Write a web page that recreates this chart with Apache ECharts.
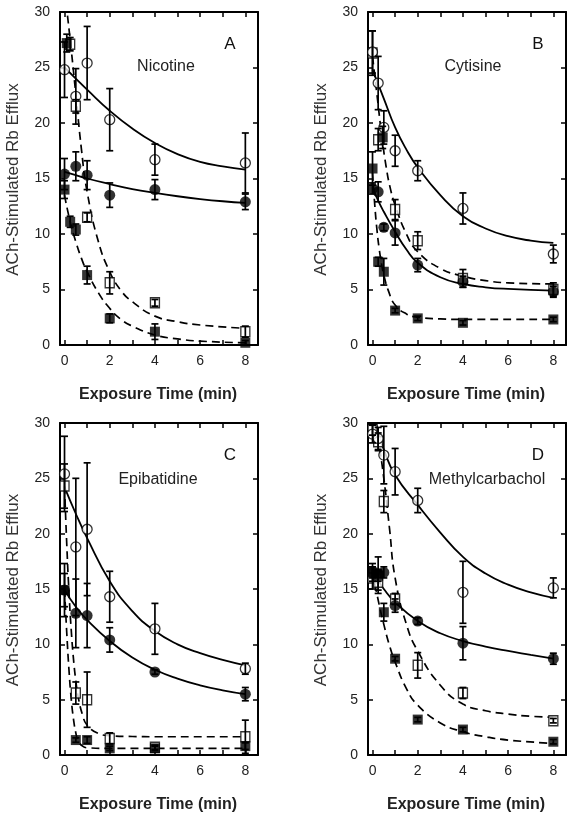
<!DOCTYPE html>
<html>
<head>
<meta charset="utf-8">
<script src="https://cdn.jsdelivr.net/npm/echarts@6/dist/echarts.min.js"></script>
<style>
html,body{margin:0;padding:0;background:#fff;}
#chart{width:572px;height:817px;}
</style>
</head>
<body>
<div id="chart"></div>
<script>
// ---------- tick labels ----------
const xTickLabels = [0, 2, 4, 6, 8];
const xMinorTicks = [0, 1, 2, 3, 4, 5, 6, 7, 8];
const yTickLabels = [0, 5, 10, 15, 20, 25, 30];
const panelNames = ['Nicotine', 'Cytisine', 'Epibatidine', 'Methylcarbachol'];
const panelLetters = ['A', 'B', 'C', 'D'];

// ---------- Panel A : Nicotine ----------
const A_oc_x = [0, 0.5, 1, 2, 4, 8];
const A_oc_y = [24.8, 22.4, 25.4, 20.3, 16.7, 16.4];
const A_oc_e = [2.5, 2.5, 3.3, 2.8, 1.4, 2.7];
const A_fc_x = [0, 0.5, 1, 2, 4, 8];
const A_fc_y = [15.4, 16.1, 15.3, 13.5, 14.0, 12.9];
const A_fc_e = [1.4, 1.3, 1.3, 1.1, 0.9, 0.7];
const A_os_x = [0.25, 0.5, 1, 2, 4, 8];
const A_os_y = [27.1, 21.5, 11.5, 5.6, 3.8, 1.2];
const A_os_e = [0.6, 0.6, 0.4, 1.0, 0.3, 0.5];
const A_fs_x = [0.1, 0, 0.25, 0.5, 1, 2, 4, 8];
const A_fs_y = [27.2, 14.0, 11.1, 10.4, 6.3, 2.4, 1.2, 0.2];
const A_fs_e = [0.8, 0.8, 0.5, 0.5, 0.8, 0.4, 0.7, 0.2];
const A_ocFit_x = [0, 0.5, 1, 2, 3, 4, 5, 6, 7, 8];
const A_ocFit_y = [25.0, 24.0, 23.0, 21.1, 19.5, 18.2, 17.2, 16.5, 16.1, 15.8];
const A_fcFit_x = [0, 0.5, 1, 2, 3, 4, 5, 6, 7, 8];
const A_fcFit_y = [15.6, 15.3, 15.0, 14.5, 14.05, 13.7, 13.4, 13.15, 12.95, 12.8];
const A_osFit_x = [0, 0.25, 0.5, 0.75, 1, 1.5, 2, 2.5, 3, 4, 5, 6, 8];
const A_osFit_y = [32.0, 27.5, 22.6, 17.6, 13.8, 9.3, 6.6, 4.9, 3.9, 2.6, 2.1, 1.8, 1.5];
const A_fsFit_x = [0, 0.25, 0.5, 0.75, 1, 1.5, 2, 2.5, 3, 4, 5, 6, 8];
const A_fsFit_y = [13.5, 11.1, 9.3, 7.8, 6.6, 4.7, 3.3, 2.3, 1.7, 0.9, 0.55, 0.35, 0.2];

// ---------- Panel B : Cytisine ----------
const B_oc_x = [0, 0.25, 0.5, 1, 2, 4, 8];
const B_oc_y = [26.4, 23.6, 19.6, 17.5, 15.7, 12.3, 8.2];
const B_oc_e = [1.9, 2.4, 1.5, 1.4, 0.9, 1.4, 0.8];
const B_fc_x = [0, 0.25, 0.5, 1, 2, 4, 8];
const B_fc_y = [14.1, 13.8, 10.6, 10.1, 7.2, 5.7, 4.8];
const B_fc_e = [0.5, 0.9, 0.3, 1.1, 0.6, 0.5, 0.5];
const B_os_x = [0, 0.25, 1, 2, 4, 8];
const B_os_y = [26.3, 18.5, 12.2, 9.4, 6.0, 5.0];
const B_os_e = [2.0, 1.0, 0.9, 0.8, 0.8, 0.6];
const B_fs_x = [0, 0.45, 0.25, 0.5, 1, 2, 4, 8];
const B_fs_y = [15.9, 18.7, 7.5, 6.6, 3.1, 2.4, 2.0, 2.3];
const B_fs_e = [1.5, 1.0, 0.4, 1.2, 0.2, 0.2, 0.2, 0.2];
const B_ocFit_x = [0, 0.25, 0.5, 1, 1.5, 2, 3, 4, 5, 6, 7, 8];
const B_ocFit_y = [24.8, 23.5, 22.2, 19.6, 17.6, 16.0, 13.5, 11.6, 10.5, 9.8, 9.4, 9.2];
const B_fcFit_x = [0, 0.25, 0.5, 1, 1.5, 2, 3, 4, 5, 6, 8];
const B_fcFit_y = [14.2, 13.0, 12.0, 10.2, 8.6, 7.4, 6.1, 5.5, 5.2, 5.05, 4.9];
const B_osFit_x = [0, 0.2, 0.4, 0.6, 0.8, 1, 1.5, 2, 3, 4, 5, 6, 8];
const B_osFit_y = [26.0, 22.5, 19.0, 16.1, 14.0, 12.6, 10.0, 8.4, 6.9, 6.2, 5.8, 5.6, 5.5];
const B_fsFit_x = [0, 0.1, 0.2, 0.3, 0.4, 0.5, 0.7, 1, 1.5, 2, 3, 4, 8];
const B_fsFit_y = [15.5, 12.6, 10.3, 8.6, 7.3, 6.3, 4.9, 3.6, 2.8, 2.5, 2.35, 2.3, 2.3];

// ---------- Panel C : Epibatidine ----------
const C_oc_x = [0, 0.5, 1, 2, 4, 8];
const C_oc_y = [25.4, 18.8, 20.4, 14.3, 11.4, 7.8];
const C_oc_e = [3.4, 6.2, 6.0, 2.3, 2.3, 0.5];
const C_fc_x = [0, 0.5, 1, 2, 4, 8];
const C_fc_y = [14.9, 12.8, 12.6, 10.4, 7.5, 5.5];
const C_fc_e = [2.4, 3.1, 2.9, 1.1, 0.2, 0.6];
const C_os_x = [0, 0.5, 1, 2, 4, 8];
const C_os_y = [24.3, 5.6, 5.0, 1.5, 0.7, 1.65];
const C_os_e = [2.0, 1.0, 2.5, 0.5, 0.2, 1.5];
const C_fs_x = [0, 0.5, 1, 2, 4, 8];
const C_fs_y = [14.9, 1.35, 1.35, 0.6, 0.6, 0.8];
const C_fs_e = [1.5, 0.2, 0.3, 0.2, 0.2, 0.3];
const C_ocFit_x = [0, 0.5, 1, 2, 3, 4, 5, 6, 7, 8];
const C_ocFit_y = [24.2, 21.8, 19.6, 15.7, 13.0, 11.2, 10.0, 9.2, 8.6, 8.1];
const C_fcFit_x = [0, 0.5, 1, 2, 3, 4, 5, 6, 7, 8];
const C_fcFit_y = [14.9, 13.4, 12.2, 10.3, 8.8, 7.7, 6.9, 6.3, 5.85, 5.5];
const C_osFit_x = [0, 0.1, 0.2, 0.3, 0.4, 0.5, 0.6, 0.8, 1, 1.5, 2, 3, 4, 8];
const C_osFit_y = [24.3, 19.0, 14.6, 11.2, 8.6, 6.7, 5.3, 3.6, 2.7, 1.95, 1.75, 1.67, 1.65, 1.65];
const C_fsFit_x = [0, 0.1, 0.2, 0.3, 0.4, 0.5, 0.6, 0.8, 1, 2, 8];
const C_fsFit_y = [15.0, 11.0, 7.6, 5.0, 3.2, 2.0, 1.3, 0.8, 0.65, 0.6, 0.6];

// ---------- Panel D : Methylcarbachol ----------
const D_oc_x = [0, 0.25, 0.5, 1, 2, 4, 8];
const D_oc_y = [29.0, 28.6, 27.1, 25.6, 23.0, 14.7, 15.1];
const D_oc_e = [0.8, 1.0, 2.6, 2.1, 1.1, 2.8, 0.9];
const D_fc_x = [0, 0.25, 0.5, 1, 2, 4, 8];
const D_fc_y = [16.5, 16.4, 16.5, 13.5, 12.1, 10.1, 8.7];
const D_fc_e = [0.8, 1.5, 0.5, 0.6, 0.3, 1.5, 0.5];
const D_os_x = [0, 0.25, 0, 0.25, 0.5, 1, 2, 4, 8];
const D_os_y = [29.4, 28.3, 16.0, 15.6, 22.9, 14.1, 8.1, 5.6, 3.1];
const D_os_e = [0.5, 0.8, 1.0, 1.0, 1.0, 0.5, 1.15, 0.5, 0.2];
const D_fs_x = [0, 0.25, 0.5, 1, 2, 4, 8];
const D_fs_y = [16.5, 16.2, 12.9, 8.7, 3.2, 2.3, 1.2];
const D_fs_e = [0.5, 0.5, 0.8, 0.2, 0.2, 0.2, 0.2];
const D_ocFit_x = [0, 0.25, 0.5, 1, 2, 3, 4, 5, 6, 7, 8];
const D_ocFit_y = [31.5, 29.2, 27.6, 25.3, 22.6, 20.1, 17.9, 16.4, 15.4, 14.7, 14.2];
const D_fcFit_x = [0, 0.25, 0.5, 1, 2, 3, 4, 5, 6, 7, 8];
const D_fcFit_y = [16.6, 15.8, 15.0, 13.8, 12.1, 11.0, 10.3, 9.8, 9.4, 9.05, 8.7];
const D_osFit_x = [0.1, 0.25, 0.5, 0.75, 1, 1.5, 2, 3, 4, 5, 6, 7, 8];
const D_osFit_y = [30.0, 28.5, 25.0, 20.5, 16.0, 11.8, 9.4, 6.3, 4.6, 4.0, 3.7, 3.5, 3.4];
const D_fsFit_x = [0, 0.25, 0.5, 0.75, 1, 1.5, 2, 3, 4, 5, 6, 8];
const D_fsFit_y = [16.6, 14.0, 11.8, 9.9, 8.4, 6.0, 4.5, 2.9, 2.1, 1.65, 1.35, 1.05];

// ---------- assemble ----------
const panels = [
  {oc:[A_oc_x,A_oc_y,A_oc_e], fc:[A_fc_x,A_fc_y,A_fc_e], os:[A_os_x,A_os_y,A_os_e], fs:[A_fs_x,A_fs_y,A_fs_e],
   ocFit:[A_ocFit_x,A_ocFit_y], fcFit:[A_fcFit_x,A_fcFit_y], osFit:[A_osFit_x,A_osFit_y], fsFit:[A_fsFit_x,A_fsFit_y]},
  {oc:[B_oc_x,B_oc_y,B_oc_e], fc:[B_fc_x,B_fc_y,B_fc_e], os:[B_os_x,B_os_y,B_os_e], fs:[B_fs_x,B_fs_y,B_fs_e],
   ocFit:[B_ocFit_x,B_ocFit_y], fcFit:[B_fcFit_x,B_fcFit_y], osFit:[B_osFit_x,B_osFit_y], fsFit:[B_fsFit_x,B_fsFit_y]},
  {oc:[C_oc_x,C_oc_y,C_oc_e], fc:[C_fc_x,C_fc_y,C_fc_e], os:[C_os_x,C_os_y,C_os_e], fs:[C_fs_x,C_fs_y,C_fs_e],
   ocFit:[C_ocFit_x,C_ocFit_y], fcFit:[C_fcFit_x,C_fcFit_y], osFit:[C_osFit_x,C_osFit_y], fsFit:[C_fsFit_x,C_fsFit_y]},
  {oc:[D_oc_x,D_oc_y,D_oc_e], fc:[D_fc_x,D_fc_y,D_fc_e], os:[D_os_x,D_os_y,D_os_e], fs:[D_fs_x,D_fs_y,D_fs_e],
   ocFit:[D_ocFit_x,D_ocFit_y], fcFit:[D_fcFit_x,D_fcFit_y], osFit:[D_osFit_x,D_osFit_y], fsFit:[D_fsFit_x,D_fsFit_y]}
];

const FONT = '"Liberation Sans", Arial, sans-serif';
const gridBoxes = [
  {left: 60, top: 12, width: 198, height: 333},
  {left: 368, top: 12, width: 198, height: 333},
  {left: 60, top: 423, width: 198, height: 332},
  {left: 368, top: 423, width: 198, height: 332}
];

const grids = [], xAxes = [], yAxes = [], series = [], graphics = [];
const X_MIN = -0.2, X_MAX = 8.56;

function zip(xs, ys, es) {
  return xs.map((x, i) => es ? [x, ys[i], es[i]] : [x, ys[i]]);
}

function errRender(params, api) {
  const x = api.value(0), y = api.value(1), e = api.value(2);
  const t = api.coord([x, y + e]);
  const b = api.coord([x, y - e]);
  const hw = 3.5;
  const st = {stroke: '#000', lineWidth: 1.7};
  return {type: 'group', children: [
    {type: 'line', shape: {x1: t[0], y1: t[1], x2: b[0], y2: b[1]}, style: st},
    {type: 'line', shape: {x1: t[0] - hw, y1: t[1], x2: t[0] + hw, y2: t[1]}, style: st},
    {type: 'line', shape: {x1: b[0] - hw, y1: b[1], x2: b[0] + hw, y2: b[1]}, style: st}
  ]};
}

panels.forEach((p, i) => {
  const g = gridBoxes[i];
  grids.push(Object.assign({containLabel: false, outerBoundsMode: 'none'}, g));
  const tickStyle = {color: '#000', width: 1.5};
  const axLine = {show: true, onZero: false, lineStyle: {color: '#000', width: 2}};
  xAxes.push({
    gridIndex: i, type: 'value', position: 'bottom', min: X_MIN, max: X_MAX,
    axisLine: axLine,
    axisTick: {show: true, inside: true, length: 5, lineStyle: tickStyle, customValues: xMinorTicks},
    axisLabel: {show: true, customValues: xTickLabels, color: '#222', fontSize: 14, fontFamily: FONT, margin: 9},
    splitLine: {show: false}
  });
  xAxes.push({
    gridIndex: i, type: 'value', position: 'top', min: X_MIN, max: X_MAX,
    axisLine: axLine,
    axisTick: {show: true, inside: true, length: 5, lineStyle: tickStyle, customValues: xMinorTicks},
    axisLabel: {show: false},
    splitLine: {show: false}
  });
  yAxes.push({
    gridIndex: i, type: 'value', position: 'left', min: 0, max: 30,
    axisLine: axLine,
    axisTick: {show: true, inside: true, length: 5, lineStyle: tickStyle, customValues: yTickLabels},
    axisLabel: {show: true, customValues: yTickLabels, color: '#222', fontSize: 14, fontFamily: FONT, margin: 10},
    splitLine: {show: false}
  });
  yAxes.push({
    gridIndex: i, type: 'value', position: 'right', min: 0, max: 30,
    axisLine: axLine,
    axisTick: {show: true, inside: true, length: 5, lineStyle: tickStyle, customValues: yTickLabels},
    axisLabel: {show: false},
    splitLine: {show: false}
  });
  const xi = 2 * i, yi = 2 * i;
  const lineBase = {type: 'line', xAxisIndex: xi, yAxisIndex: yi, showSymbol: false, symbol: 'none',
    smooth: 0.5, clip: true, silent: true, z: 2};
  series.push(Object.assign({}, lineBase, {data: zip(p.ocFit[0], p.ocFit[1]), lineStyle: {color: '#000', width: 1.8, type: 'solid'}}));
  series.push(Object.assign({}, lineBase, {data: zip(p.fcFit[0], p.fcFit[1]), lineStyle: {color: '#000', width: 1.8, type: 'solid'}}));
  series.push(Object.assign({}, lineBase, {data: zip(p.osFit[0], p.osFit[1]), lineStyle: {color: '#000', width: 1.7, type: [8, 5]}}));
  series.push(Object.assign({}, lineBase, {data: zip(p.fsFit[0], p.fsFit[1]), lineStyle: {color: '#000', width: 1.7, type: [8, 5]}}));
  const sc = {type: 'scatter', xAxisIndex: xi, yAxisIndex: yi, silent: true, z: 4};
  series.push(Object.assign({}, sc, {data: zip(p.os[0], p.os[1]), symbol: 'rect', symbolSize: [9, 10],
    itemStyle: {color: '#fff', borderColor: '#000', borderWidth: 1.4}}));
  series.push(Object.assign({}, sc, {data: zip(p.fs[0], p.fs[1]), symbol: 'rect', symbolSize: 10,
    itemStyle: {color: '#000', borderColor: '#000', borderWidth: 0}}));
  series.push(Object.assign({}, sc, {data: zip(p.oc[0], p.oc[1]), symbol: 'circle', symbolSize: 10,
    itemStyle: {color: '#fff', borderColor: '#000', borderWidth: 1.3}}));
  series.push(Object.assign({}, sc, {data: zip(p.fc[0], p.fc[1]), symbol: 'circle', symbolSize: 11,
    itemStyle: {color: '#000', borderColor: '#000', borderWidth: 0}}));
  ['oc', 'fc', 'os', 'fs'].forEach(k => {
    series.push({type: 'custom', xAxisIndex: xi, yAxisIndex: yi, renderItem: errRender,
      encode: {x: 0, y: 1}, data: zip(p[k][0], p[k][1], p[k][2]), silent: true, z: 5, clip: false});
  });

  // text annotations
  const cx = g.left + g.width / 2;
  graphics.push({type: 'text', x: g.left - 46.5, y: g.top + g.height / 2 + 1, rotation: Math.PI / 2,
    style: {text: 'ACh-Stimulated Rb Efflux', font: '17px ' + FONT, fill: '#333', align: 'center', verticalAlign: 'middle'}});
  graphics.push({type: 'text', x: cx - 1, y: g.top + g.height + 50,
    style: {text: 'Exposure Time (min)', font: 'bold 16px ' + FONT, fill: '#222', align: 'center', verticalAlign: 'middle'}});
  graphics.push({type: 'text', x: g.left + 170, y: g.top + 32,
    style: {text: panelLetters[i], font: '17px ' + FONT, fill: '#111', align: 'center', verticalAlign: 'middle'}});
  const nameX = [166, 473, 158, 487][i];
  const nameY = [67, 67, 480, 480][i];
  graphics.push({type: 'text', x: nameX, y: nameY,
    style: {text: panelNames[i], font: '16px ' + FONT, fill: '#222', align: 'center', verticalAlign: 'middle'}});
});

const chart = echarts.init(document.getElementById('chart'), null, {renderer: 'canvas'});
chart.setOption({
  animation: false,
  backgroundColor: '#fff',
  grid: grids,
  xAxis: xAxes,
  yAxis: yAxes,
  series: series,
  graphic: graphics
});
</script>
</body>
</html>
